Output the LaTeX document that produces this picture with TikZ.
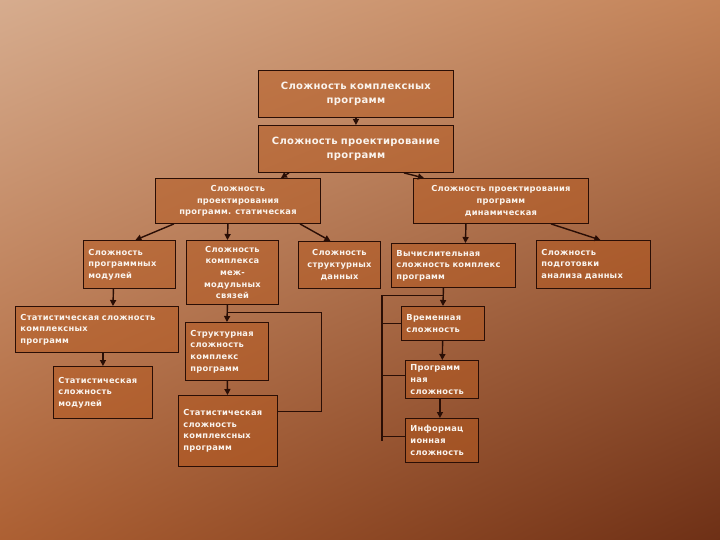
\documentclass[tikz,border=0pt]{standalone}
\usepackage{fontspec}
\usetikzlibrary{arrows.meta,positioning,calc,shadings}
\newfontfamily\boxfont[LetterSpace=3]{DejaVu Sans}
\definecolor{bgtl}{HTML}{D6AC8E}
\definecolor{bgtr}{HTML}{C48358}
\definecolor{bgbl}{HTML}{AD6033}
\definecolor{bgbr}{HTML}{6E3016}
\definecolor{boxfill}{HTML}{B5581E}
\definecolor{edge}{HTML}{2A0E05}
\definecolor{label}{HTML}{FAF4EE}
\tikzset{
  box/.style={rectangle,draw=edge,line width=0.9pt,fill=boxfill,fill opacity=0.5,text opacity=1,
    text=label,anchor=north west,align=center,inner xsep=5pt,inner ysep=2pt,
    font=\boxfont\bfseries\fontsize{8.3}{11.6}\selectfont},
  boxl/.style={box,align=left},
  bigbox/.style={box,font=\boxfont\bfseries\fontsize{10}{14}\selectfont},
  arrow/.style={-{Triangle[length=6pt,width=6pt]},line width=1.4pt,edge},
  link/.style={line width=1.1pt,edge}
}
\begin{document}
\begin{tikzpicture}[x=1pt,y=-1pt]
    \useasboundingbox (0,0) rectangle (720,540);
    \shade[upper left=bgtl,upper right=bgtr,lower left=bgbl,lower right=bgbr] (0,0) rectangle (720,540);
    % top levels
    \node[bigbox,text width=185pt,minimum height=47pt] (b1) at (258,70) {Сложность комплексных\\программ};
    \node[bigbox,text width=185pt,minimum height=47pt] (b2) at (258,125) {Сложность проектирование\\программ};
    \node[box,text width=155pt,minimum height=45pt] (b3) at (155,178) {Сложность\\проектирования\\программ. статическая};
    \node[box,text width=165pt,minimum height=45pt] (b4) at (413,178) {Сложность проектирования\\программ\\динамическая};
    % third row
    \node[boxl,text width=82pt,minimum height=48pt] (c1) at (83,240) {Сложность\\программных\\модулей};
    \node[box,text width=82pt,minimum height=64pt] (c2) at (186,240) {Сложность\\комплекса\\меж-\\модульных\\связей};
    \node[box,text width=72pt,minimum height=47pt] (c3) at (298,241) {Сложность\\структурных\\данных};
    \node[boxl,text width=114pt,minimum height=44pt] (c4) at (391,243) {Вычислительная\\сложность комплекс\\программ};
    \node[boxl,text width=104pt,minimum height=48pt] (c5) at (536,240) {Сложность\\подготовки\\анализа данных};
    % left branch
    \node[boxl,text width=153pt,minimum height=46pt] (d1) at (15,306) {Статистическая сложность\\комплексных\\программ};
    \node[boxl,text width=89pt,minimum height=52pt] (d2) at (53,366) {Статистическая\\сложность\\модулей};
    % middle branch
    \node[boxl,text width=73pt,minimum height=58pt] (e1) at (185,322) {Структурная\\сложность\\комплекс\\программ};
    \node[boxl,text width=89pt,minimum height=71pt] (e2) at (178,395) {Статистическая\\сложность\\комплексных\\программ};
    % right branch
    \node[boxl,text width=73pt,minimum height=34pt] (f1) at (401,306) {Временная\\сложность};
    \node[boxl,text width=63pt,minimum height=38pt] (f2) at (405,360) {Программ\\ная\\сложность};
    \node[boxl,text width=63pt,minimum height=44pt] (f3) at (405,418) {Информац\\ионная\\сложность};
    \coordinate (bus) at (382,441);
    % arrows
    \draw[arrow] (b1) -- (b2);
    \draw[arrow] ([xshift=-67pt]b2.south) -- ([xshift=43pt]b3.north);
    \draw[arrow] ([xshift=48pt]b2.south) -- ([xshift=-77pt]b4.north);
    \draw[arrow] ([xshift=-64pt]b3.south) -- ([xshift=6pt]c1.north);
    \draw[arrow] ([xshift=-10pt]b3.south) -- ([xshift=-5pt]c2.north);
    \draw[arrow] ([xshift=62pt]b3.south) -- ([xshift=-9pt]c3.north);
    \draw[arrow] ([xshift=-35pt]b4.south) -- ([xshift=12pt]c4.north);
    \draw[arrow] ([xshift=50pt]b4.south) -- ([xshift=7pt]c5.north);
    \draw[arrow] ([xshift=-16pt]c1.south) -- ([xshift=16pt]d1.north);
    \draw[arrow] ([xshift=6pt]d1.south) -- (d2.north);
    \draw[arrow] ([xshift=-5pt]c2.south) -- (e1.north);
    \draw[arrow] (e1) -- (e2);
    \draw[arrow] ([xshift=-10pt]c4.south) -- (f1.north);
    \draw[arrow] (f1) -- (f2);
    \draw[arrow] ([xshift=-2pt]f2.south) -- ([xshift=-2pt]f3.north);
    % side links
    \draw[link] ([xshift=-5pt,yshift=-8pt]c2.south) -- ++(94,0) |- ([yshift=19.5pt]e2.east);
    \draw[link] ([xshift=-10pt,yshift=-8pt]c4.south) -| (bus);
    \draw[link] (f1.west) -- (bus |- f1.west);
    \draw[link] ([yshift=4pt]f2.west) -- ++(-23,0);
    \draw[link] ([yshift=4pt]f3.west) -- ++(-23,0);
\end{tikzpicture}
\end{document}
